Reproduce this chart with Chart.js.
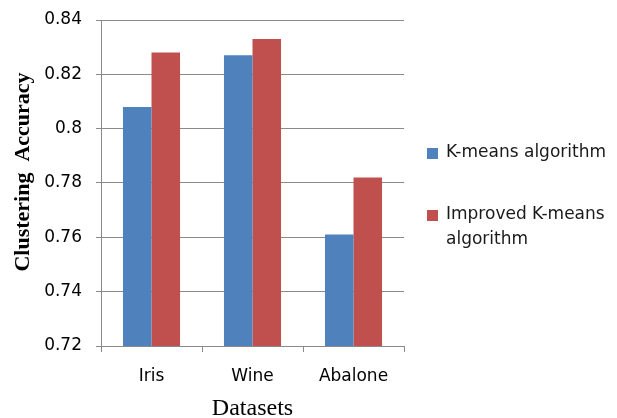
<!DOCTYPE html>
<html>
<head>
<meta charset="utf-8">
<script src="https://cdn.jsdelivr.net/npm/chart.js@4/dist/chart.umd.min.js"></script>
<style>
  html, body { margin: 0; padding: 0; background: #ffffff; }
  #wrap { width: 617px; height: 418px; }
</style>
</head>
<body>
<div id="wrap"><canvas id="c" width="617" height="418"></canvas></div>
<script>
// Datasets and accuracy of each clustering method
const categories = ['Iris', 'Wine', 'Abalone'];
const kmeansAccuracy = [0.808, 0.827, 0.761];
const improvedAccuracy = [0.828, 0.833, 0.782];
const seriesNames = ['K-means algorithm', ['Improved K-means', 'algorithm']];
const seriesColors = ['#4F81BD', '#C0504D'];
const yTicks = [0.72, 0.74, 0.76, 0.78, 0.8, 0.82, 0.84];
const xTitle = 'Datasets';
const yTitle = 'Clustering  Accuracy';

const sansFamily = '"DejaVu Sans", "Open Sans", sans-serif';
const serifFamily = '"Liberation Serif", "Times New Roman", serif';
const tickFont = { family: sansFamily, size: 17 };
const gridColor = '#8a8a8a';

// Vertical axis title, centred a little above the middle of the plot
const yTitlePlugin = {
  id: 'yTitlePlugin',
  afterDraw(chart) {
    const ctx = chart.ctx;
    ctx.save();
    ctx.translate(23, 172);
    ctx.rotate(-Math.PI / 2);
    ctx.font = 'bold 22px ' + serifFamily;
    ctx.fillStyle = '#000';
    ctx.textAlign = 'center';
    ctx.textBaseline = 'middle';
    ctx.fillText(yTitle, 0, 0);
    ctx.restore();
  }
};

// Legend on the right side, with the second entry wrapped over two lines
const sideLegend = {
  id: 'sideLegend',
  afterDraw(chart) {
    const ctx = chart.ctx;
    const x0 = 427, rows = [153, 215];
    ctx.save();
    ctx.font = '17px ' + sansFamily;
    ctx.textBaseline = 'middle';
    chart.data.datasets.forEach((ds, i) => {
      const y = rows[i];
      ctx.fillStyle = ds.backgroundColor;
      ctx.fillRect(x0, y - 5, 11, 11);
      ctx.fillStyle = '#1a1a1a';
      const lines = Array.isArray(ds.label) ? ds.label : [ds.label];
      lines.forEach((t, k) => ctx.fillText(t, x0 + 19, y + k * 25));
    });
    ctx.restore();
  }
};

new Chart(document.getElementById('c'), {
  type: 'bar',
  data: {
    labels: categories,
    datasets: [
      { label: seriesNames[0], data: kmeansAccuracy, backgroundColor: seriesColors[0] },
      { label: seriesNames[1], data: improvedAccuracy, backgroundColor: seriesColors[1] }
    ]
  },
  options: {
    responsive: false,
    animation: false,
    devicePixelRatio: 1,
    layout: { padding: { top: 20, right: 213, bottom: 0, left: 0 } },
    plugins: {
      legend: { display: false },
      tooltip: { enabled: false }
    },
    datasets: {
      bar: { categoryPercentage: 0.565, barPercentage: 1.0, borderWidth: 0 }
    },
    scales: {
      x: {
        offset: true,
        grid: {
          offset: true,
          drawOnChartArea: false,
          drawTicks: true,
          tickLength: 6,
          color: gridColor
        },
        border: { display: true, color: gridColor },
        ticks: { font: tickFont, color: '#000', padding: 14 },
        title: {
          display: true,
          text: xTitle,
          font: { family: serifFamily, size: 24 },
          color: '#000',
          padding: { top: 0, bottom: -5 }
        },
        afterFit(scale) { scale.height = 72; }
      },
      y: {
        min: 0.72,
        max: 0.84,
        afterBuildTicks(scale) { scale.ticks = yTicks.map(v => ({ value: v })); },
        grid: { color: gridColor, tickLength: 5, drawTicks: true },
        border: { display: true, color: gridColor },
        ticks: {
          font: tickFont,
          color: '#000',
          padding: 14,
          callback: v => String(+v.toFixed(2))
        },
        afterFit(scale) {
          scale.width = 101;
          scale.paddingTop = 0;
          scale.paddingBottom = 0;
        }
      }
    }
  },
  plugins: [yTitlePlugin, sideLegend]
});
</script>
</body>
</html>
